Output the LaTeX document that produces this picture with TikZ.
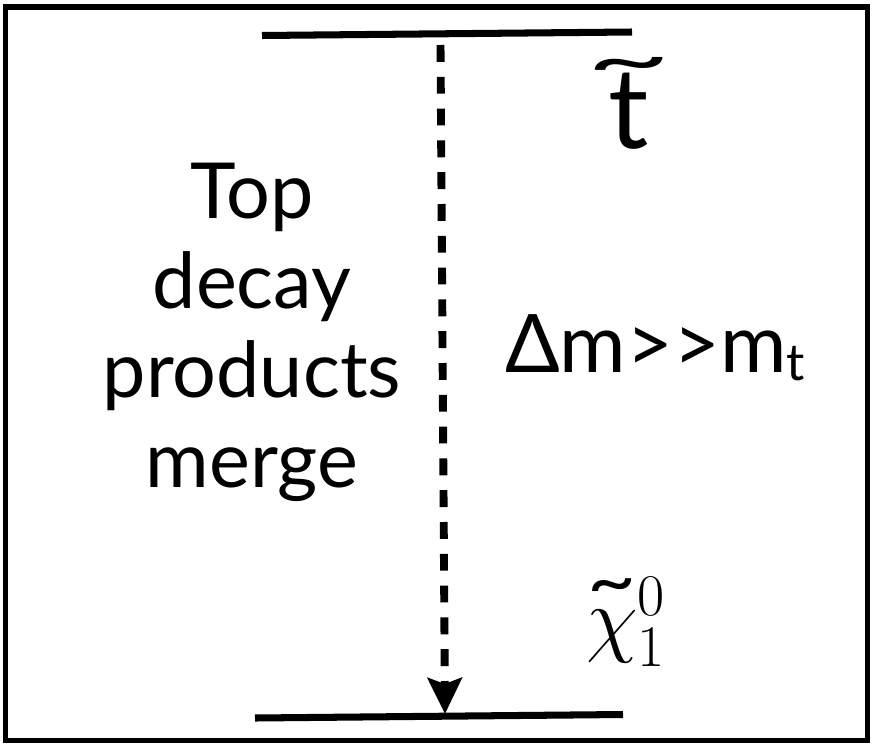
\RequirePackage{fix-cm}
\documentclass[tikz,border=0pt]{standalone}
\usepackage{fontspec}
\setmainfont{Lato}
\usetikzlibrary{arrows.meta,positioning}

\newcommand{\bigtilde}[4]{\ooalign{#1\cr\hidewidth\raisebox{#2}{\scalebox{#3}[#4]{\~{}}}\hidewidth\cr}}

\begin{document}
\begin{tikzpicture}[x=0.02cm,y=-0.02cm,
    level/.style={line width=4pt},
    decay/.style={line width=4.5pt, dash pattern=on 9.6pt off 8.5pt,
        -{Stealth[length=0.72cm,width=0.68cm,inset=0.12cm]}},
    label/.style={inner sep=0pt, font=\fontsize{44}{51}\selectfont},
]
    \useasboundingbox (0,0) rectangle (875,747);
    \draw[line width=2.85pt] (5.5,7) rectangle (867,740);

    % mass levels
    \coordinate (stopL) at (262,35.5);
    \coordinate (stopR) at (632,32);
    \coordinate (lspL) at (255,718);
    \coordinate (lspR) at (623,714.5);
    \draw[level] (stopL) -- (stopR);
    \draw[level] (lspL) -- (lspR);

    % decay
    \coordinate (from) at (440.5,45);
    \coordinate (to) at (445,714);
    \draw[decay] (from) -- (to);

    \node[label, anchor=base] (stop) at (629,148)
        {\fontsize{64}{64}\selectfont\bigtilde{t}{0.56em}{1.3}{0.65}};
    \node[label, anchor=base] (dm) at (655,372)
        {\fontsize{46}{46}\selectfont Δm>{}>m{\fontsize{29}{29}\selectfont\raisebox{-5pt}{t}}};
    \node[label, anchor=base] (lsp) at (626,646)
        {\fontsize{48}{48}\selectfont$\mbox{\bigtilde{$\chi$}{0.47em}{1.0}{0.86}}_1^0$};
    \node[label, align=center, anchor=north] (merge) at (252,163)
        {Top\\decay\\products\\merge};
\end{tikzpicture}
\end{document}
